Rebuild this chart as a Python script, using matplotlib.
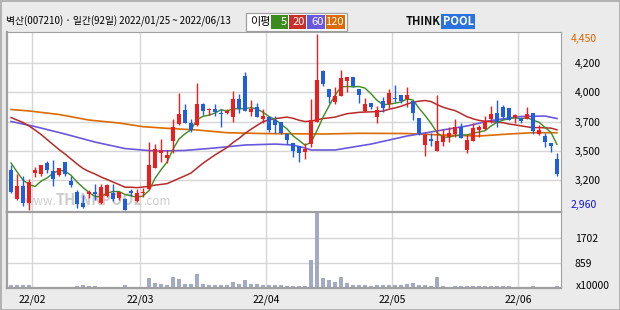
import numpy as np
import pandas as pd
import matplotlib
matplotlib.use('Agg')
import matplotlib.pyplot as plt
from matplotlib.patches import Rectangle
from matplotlib.transforms import blended_transform_factory

plt.rcParams['font.family'] = ['Noto Sans CJK KR', 'DejaVu Sans']

# daily candles 2022/01/25 ~ 2022/06/13 (92 days)
opens = [3301, 3056, 3166, 3024, 3278, 3267, 3357, 3292, 3256, 3366, 3210, 3117, 3019, 3095, 3112, 3019,
         3084, 3109, 3062, 3056, 3123, 3039, 3106, 3138, 3320, 3442, 3405, 3548, 3690, 3808, 3695, 3684,
         3859, 3808, 3816, 3785, 3785, 3751, 3901, 4095, 3794, 3831, 3729, 3746, 3723, 3704, 3605, 3531,
         3504, 3456, 3518, 3709, 4140, 3983, 3873, 3929, 4055, 4084, 3983, 3799, 3870, 3751, 3884, 3859,
         3912, 3935, 3899, 3884, 3743, 3512, 3563, 3464, 3540, 3577, 3605, 3662, 3470, 3548, 3639, 3647,
         3729, 3785, 3831, 3822, 3746, 3743, 3732, 3780, 3605, 3588, 3531, 3394]
highs = [3343, 3267, 3253, 3225, 3329, 3343, 3379, 3385, 3320, 3371, 3253, 3132, 3090, 3132, 3180, 3183,
         3183, 3183, 3117, 3062, 3138, 3138, 3149, 3537, 3523, 3560, 3470, 3729, 3954, 3859, 3729, 4038,
         3870, 3825, 3859, 3814, 3816, 3968, 3940, 4126, 3892, 3864, 3814, 3757, 3757, 3704, 3611, 3531,
         3504, 3526, 3898, 4450, 4146, 3983, 4005, 4146, 4084, 4090, 3985, 3907, 3870, 3842, 3920, 3983,
         4019, 3935, 4005, 3884, 3743, 3611, 3611, 3935, 3645, 3662, 3729, 3700, 3597, 3695, 3681, 3757,
         3842, 3892, 3850, 3825, 3771, 3745, 3836, 3785, 3681, 3616, 3531, 3442]
lows = [3104, 3050, 2999, 2960, 3239, 3250, 3273, 3168, 3250, 3253, 3160, 2977, 2977, 3062, 3047, 3015,
        3075, 3039, 3047, 2960, 3084, 3028, 3075, 3130, 3315, 3371, 3357, 3442, 3681, 3695, 3624, 3670,
        3766, 3766, 3760, 3667, 3774, 3709, 3780, 3798, 3760, 3746, 3695, 3624, 3611, 3602, 3521, 3413,
        3371, 3391, 3498, 3705, 4013, 3870, 3859, 3925, 3962, 3999, 3870, 3793, 3816, 3700, 3794, 3822,
        3877, 3864, 3836, 3723, 3596, 3422, 3504, 3460, 3504, 3540, 3582, 3573, 3442, 3545, 3582, 3643,
        3700, 3667, 3731, 3720, 3700, 3700, 3730, 3605, 3600, 3498, 3450, 3253]
closes = [3117, 3166, 3024, 3197, 3301, 3343, 3301, 3225, 3320, 3267, 3171, 3014, 2991, 3112, 3095, 3160,
          3174, 3053, 3117, 2963, 3109, 3104, 3115, 3343, 3481, 3470, 3428, 3662, 3774, 3700, 3639, 3859,
          3802, 3819, 3794, 3777, 3802, 3901, 3816, 3802, 3816, 3751, 3757, 3639, 3681, 3611, 3554, 3464,
          3447, 3478, 3723, 4061, 4028, 3920, 3926, 4076, 4084, 4011, 3935, 3859, 3836, 3808, 3827, 3954,
          3903, 3886, 3934, 3785, 3611, 3597, 3548, 3546, 3588, 3611, 3662, 3575, 3554, 3653, 3667, 3715,
          3774, 3709, 3746, 3723, 3763, 3717, 3774, 3633, 3639, 3540, 3504, 3267]
volumes = [95, 90, 90, 90, 50, 45, 45, 45, 50, 45, 45, 85, 90, 85, 85, 50, 50, 50, 50, 90, 50, 50, 50,
           330, 160, 125, 90, 395, 295, 125, 125, 465, 125, 90, 90, 90, 90, 192, 125, 260, 125, 125,
           90, 90, 90, 90, 55, 55, 55, 55,
           970, 2560, 330, 260, 192, 395, 158, 90, 90, 90, 55, 90, 110, 110, 110, 90, 125, 160, 110, 90, 60, 395,
           70, 50, 70, 70, 60, 60, 60, 55, 70, 70, 60, 60, 50, 50, 50, 60, 50, 50, 50, 60]

# moving averages: values before enough days come from the chart
ma5_head = [3360, 3286, 3216, 3180]
ma20_head = [3744, 3723, 3702, 3673, 3639, 3601, 3559, 3516, 3474, 3436, 3394, 3352, 3314, 3288, 3267,
             3242, 3221, 3199, 3178]
ma60_idx = [0, 4, 9, 14, 19, 24, 29, 34, 39, 44, 47, 49, 50, 54, 60, 66, 71, 76, 80, 85, 89, 91]
ma60_val = [3711, 3668, 3605, 3537, 3482, 3461, 3466, 3487, 3512, 3520, 3512, 3487, 3470, 3470, 3520,
            3588, 3631, 3673, 3719, 3753, 3757, 3736]
ma120_idx = [0, 3, 8, 13, 18, 22, 26, 31, 36, 42, 52, 58, 66, 72, 78, 83, 87, 91]
ma120_val = [3812, 3800, 3770, 3723, 3698, 3667, 3653, 3639, 3616, 3609, 3605, 3611, 3609, 3596, 3588,
             3605, 3616, 3616]

month_pos = [3.5, 21.5, 42.5, 63.5, 84.5]
month_labels = ['22/02', '22/03', '22/04', '22/05', '22/06']
price_grid = [4202, 3957, 3709, 3461, 3214]
price_labels = ['4,200', '4,000', '3,700', '3,500', '3,200']
vol_grid = [1702, 859]
vol_labels = ['1702', '859']

RED = '#f01c1c'
BLUE = '#1f5ee0'
C5, C20, C60, C120 = '#3a8c1e', '#b82a2a', '#6a58dc', '#dc6a00'
GRID = '#d6d6d6'

W, H = 620, 310
fig = plt.figure(figsize=(6.2, 3.1), dpi=100, facecolor='#ebebeb')


def px_axes(x0, y0, x1, y1, **kw):
    return fig.add_axes([x0 / W, 1 - y1 / H, (x1 - x0) / W, (y1 - y0) / H], **kw)


# background / header
bg = px_axes(0, 0, W, H, zorder=0)
bg.set_xlim(0, W)
bg.set_ylim(H, 0)
bg.axis('off')
bg.add_patch(Rectangle((0.5, 0.5), W - 1, H - 1, fill=False, ec='#a8a8a8', lw=1.2))
bg.text(6, 21, '벽산(007210) · 일간(92일) 2022/01/25 ~ 2022/06/13', fontsize=7.0, va='center', ha='left')
bg.add_patch(Rectangle((246, 12.5), 101, 18, fc='white', ec='#a0a0a0', lw=0.9))
bg.text(250, 21.5, '이평', fontsize=8, va='center', ha='left')
for x0, x1, c, t in [(271, 288, C5, '5'), (289, 306, '#c8302c', '20'), (307, 325, C60, '60'),
                     (326, 345, C120, '120')]:
    bg.add_patch(Rectangle((x0, 14.5), x1 - x0, 14, fc=c, ec='none'))
    bg.text(x1 - 1, 21.8, t, color='white', fontsize=8, va='center', ha='right')
bg.text(441, 21.5, 'THINK', fontsize=8, weight='bold', va='center', ha='right', color='#111111')
bg.add_patch(Rectangle((441, 14), 34, 15, fc='#2a72e0', ec='none'))
bg.text(458, 21.5, 'POOL', fontsize=8, weight='bold', va='center', ha='center', color='white')

x = np.arange(len(closes))
o = np.array(opens)
c = np.array(closes)
colors = [RED if cc >= oo else BLUE for oo, cc in zip(o, c)]

# price pane
ax = px_axes(7, 32, 561, 212, zorder=1)
ax.set_facecolor('white')
ax.set_xlim(-0.67, 91.67)
ax.set_ylim(2946, 4467)
for g in price_grid:
    ax.axhline(g, color=GRID, lw=1, zorder=0)
for m in month_pos:
    ax.axvline(m, color=GRID, lw=1, zorder=0)

# watermark
t1 = ax.text(2.2, 3001, 'www.', fontsize=8.5, color='#cccccc', zorder=0.5)
t2 = ax.annotate('THINKPOOL', xy=(1, 0), xycoords=t1, va='bottom', fontsize=10.5, weight='bold',
                 color='#cccccc', zorder=0.5)
ax.annotate('.com', xy=(1, 0), xycoords=t2, va='bottom', fontsize=8.5, color='#cccccc', zorder=0.5)

ma5 = pd.Series(closes).rolling(5).mean().to_numpy()
ma5[:4] = ma5_head
ma20 = pd.Series(closes).rolling(20).mean().to_numpy()
ma20[:19] = ma20_head
ax.plot(ma120_idx, ma120_val, color=C120, lw=1.2, zorder=1)
ax.plot(ma60_idx, ma60_val, color=C60, lw=1.2, zorder=1)
ax.plot(x, ma20, color=C20, lw=1.1, zorder=1)
ax.plot(x, ma5, color=C5, lw=1.0, zorder=1)

ax.vlines(x, lows, highs, color=colors, lw=1.0, zorder=2)
body_lo = np.minimum(o, c)
body_h = np.maximum(np.abs(c - o), 9)
ax.bar(x, body_h, bottom=body_lo, width=0.8, color=colors, lw=0, zorder=3)

ax.yaxis.tick_right()
ax.set_yticks(price_grid)
ax.set_yticklabels(price_labels)
ax.tick_params(axis='y', length=0, pad=10, labelsize=7.5)
ax.set_xticks([])
tr = blended_transform_factory(ax.transAxes, ax.transData)
ax.text(1 + 10 / 554, 4450, '4,450', color='#dd6600', fontsize=7.5, va='top', ha='left', transform=tr)
ax.text(1 + 10 / 554, 2960, '2,960', color='#1010dd', fontsize=7.5, va='bottom', ha='left', transform=tr)
for s in ax.spines.values():
    s.set_color('#a0a0a0')
ax.spines['left'].set_linewidth(1.6)

# volume pane
axv = px_axes(7, 212, 561, 288, zorder=1)
axv.set_facecolor('white')
axv.set_xlim(-0.67, 91.67)
axv.set_ylim(0, 2611)
for g in vol_grid:
    axv.axhline(g, color=GRID, lw=1, zorder=0)
for m in month_pos:
    axv.axvline(m, color=GRID, lw=1, zorder=0)
axv.bar(x, volumes, width=0.8, color='#a3aac3', lw=0, zorder=2)
axv.yaxis.tick_right()
axv.set_yticks(vol_grid)
axv.set_yticklabels(vol_labels)
axv.tick_params(axis='y', length=0, pad=10, labelsize=7.5)
axv.set_xticks(month_pos)
axv.set_xticklabels(month_labels)
axv.tick_params(axis='x', length=0, pad=5, labelsize=7.5)
for s in axv.spines.values():
    s.set_color('#a0a0a0')
axv.spines['top'].set_linewidth(1.6)
axv.spines['left'].set_linewidth(1.6)
axv.spines['bottom'].set_linewidth(1.6)
fig.text(576 / W, 1 - 286 / H, 'x10000', fontsize=7.5, va='center', ha='left')

fig.savefig('out.png', dpi=100, facecolor=fig.get_facecolor())
